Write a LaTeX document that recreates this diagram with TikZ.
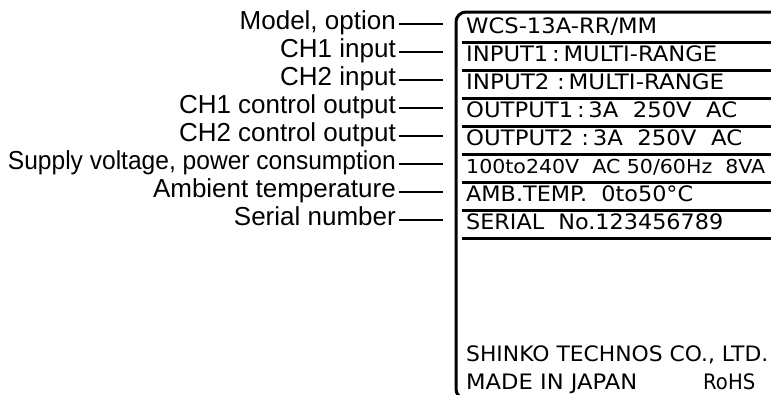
\documentclass[tikz,border=0pt]{standalone}
\usepackage{fontspec}
\setmainfont{Liberation Sans}
\newfontfamily\cad{DejaVu Sans}
\newcommand{\pl}[3]{\resizebox{#1pt}{#2pt}{\cad\smash{#3}\vphantom{H}}}
\tikzset{
  frameline/.style={line width=3pt, rounded corners=10pt},
  sepline/.style={line width=3pt},
  leader/.style={line width=1.3pt},
  lab/.style={anchor=base east, inner sep=0pt, font=\fontsize{26}{28}\selectfont},
  plate/.style={anchor=base west, inner sep=0pt},
}
\begin{document}
\begin{tikzpicture}[x=1pt,y=-1pt]
\useasboundingbox (0,0) rectangle (771,394);
\begin{scope}
\clip (0,0) rectangle (771,394);
% frame
\draw[frameline] (480,399) -- (456,399) -- (456,12) -- (780,12);
% separators
\foreach \i in {0,...,7}{
  \draw[sepline] (462,42+28*\i) -- (775,42+28*\i);
}
\end{scope}
% plate texts
\node[plate] (p1) at (466,33.5) {\pl{191}{15.5}{WCS-13A-RR/MM}};
\node[plate] (p2) at (466,61.5) {\pl{251}{15.5}{INPUT1\,:\,MULTI-RANGE}};
\node[plate] (p3) at (466,89.5) {\pl{258}{15.5}{INPUT2\,\,:\,MULTI-RANGE}};
\node[plate] (p4) at (466,117.5) {\pl{271}{15.5}{OUTPUT1\,:\,3A\ \ 250V\ \ AC}};
\node[plate] (p5) at (466,145.5) {\pl{276}{15.5}{OUTPUT2\,\,:\,3A\ \ 250V\ \ AC}};
\node[plate] (p6) at (466,173.5) {\pl{299}{14}{100to240V\ \ AC\ 50/60Hz\ \ 8VA}};
\node[plate] (p7) at (466,201.5) {\pl{227}{15.5}{AMB.TEMP.\ \ 0to50°C}};
\node[plate] (p8) at (466,229.5) {\pl{257}{15.5}{SERIAL\ \ No.123456789}};
\node[plate] (p9) at (466,361) {\pl{302}{15.5}{SHINKO\ TECHNOS\ CO.,\ LTD.}};
\node[plate] (p10) at (466,389) {\pl{171}{15.5}{MADE\ IN\ JAPAN}};
\node[plate] (p11) at (703,389) {\pl{52}{15.5}{RoHS}};
% labels
\node[lab] (l1) at (396,29.5) {Model, option};
\node[lab] (l2) at (396,57.5) {CH1 input};
\node[lab] (l3) at (396,85.5) {CH2 input};
\node[lab] (l4) at (396,113.5) {CH1 control output};
\node[lab] (l5) at (396,141.5) {CH2 control output};
\node[lab] (l6) at (396,169.5) {\scalebox{0.945}[1]{Supply voltage, power consumption}};
\node[lab] (l7) at (396,197.5) {Ambient temperature};
\node[lab] (l8) at (396,225.5) {Serial number};
% leaders
\foreach \i in {1,...,8}{
  \coordinate (e\i) at ([yshift=5.5pt]l\i.base east);
  \coordinate (s\i) at ([xshift=3pt]e\i);
  \coordinate (t\i) at ([xshift=47pt]e\i);
  \draw[leader] (s\i) -- (t\i);
}
\end{tikzpicture}
\end{document}
